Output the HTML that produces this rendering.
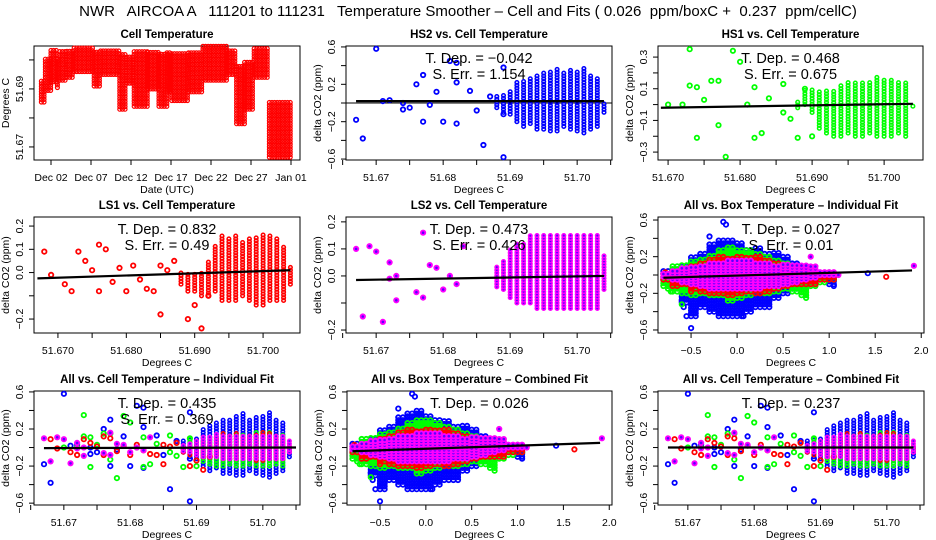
<!DOCTYPE html>
<html><head><meta charset="utf-8">
<style>
html,body{margin:0;padding:0;background:#fff;}
svg{display:block;font-family:"Liberation Sans",sans-serif;}
text{fill:#000;}
</style></head>
<body>
<svg id="chart" width="936" height="540" viewBox="0 0 936 540" xmlns="http://www.w3.org/2000/svg">
<rect x="0" y="0" width="936" height="540" fill="#fff"/>
<text x="468" y="16" font-size="15" text-anchor="middle" xml:space="preserve">NWR   AIRCOA A   111201 to 111231   Temperature Smoother – Cell and Fits ( 0.026  ppm/boxC +  0.237  ppm/cellC)</text>
<g id="layer"></g>
</svg>
<script>
// ---------- DATA ----------
const tsStart = [-0.2, 0.3, 1.0, 1.8, 2.1, 3.0, 3.9, 6.4, 7.2, 9.6, 10.5, 11.4, 13.1, 14.5, 15.5, 16.1, 18.2, 20.0, 23.0, 24.2, 25.2, 26.4, 28.3];
const tsEnd   = [0.3, 1.0, 1.8, 2.1, 3.0, 3.9, 6.4, 7.2, 9.6, 10.5, 11.4, 13.1, 14.5, 15.5, 16.1, 18.2, 20.0, 23.0, 24.2, 25.2, 26.4, 28.2, 30.9];
const tsLo    = [51.6855, 51.6895, 51.6925, 51.6905, 51.6930, 51.6940, 51.6960, 51.6910, 51.6950, 51.6830, 51.6920, 51.6840, 51.6900, 51.6840, 51.6890, 51.6860, 51.6890, 51.6930, 51.6950, 51.6780, 51.6830, 51.6940, 51.6665];
const tsHi    = [51.6930, 51.7005, 51.7035, 51.7010, 51.7035, 51.7030, 51.7048, 51.7030, 51.7035, 51.7020, 51.7010, 51.7030, 51.7030, 51.7020, 51.7025, 51.7030, 51.7030, 51.7048, 51.7035, 51.6985, 51.7000, 51.7045, 51.6862];
const tsTickDays = [1, 6, 11, 16, 21, 26, 31];
const tsTickLabels = ["Dec 02","Dec 07","Dec 12","Dec 17","Dec 22","Dec 27","Jan 01"];

const cellCols = [51.688,51.689,51.690,51.691,51.692,51.693,51.694,51.695,51.696,51.697,51.698,51.699,51.700,51.701,51.702,51.703,51.704];
const hs2Lo = [-0.05,-0.10,-0.12,-0.20,-0.25,-0.22,-0.28,-0.28,-0.30,-0.30,-0.25,-0.28,-0.30,-0.32,-0.28,-0.25,-0.10];
const hs2Hi = [0.08,0.10,0.12,0.22,0.25,0.28,0.30,0.32,0.35,0.38,0.32,0.35,0.35,0.38,0.30,0.28,0.00];
const hs2OutX = [51.667,51.668,51.670,51.671,51.672,51.674,51.674,51.675,51.676,51.677,51.677,51.678,51.679,51.680,51.681,51.682,51.682,51.682,51.684,51.685,51.686,51.687,51.689,51.689,51.689];
const hs2OutY = [-0.18,-0.38,0.58,0.02,0.03,-0.07,0.0,-0.05,0.2,0.3,-0.2,-0.02,0.12,-0.2,0.45,0.43,-0.22,0.22,0.13,-0.08,-0.45,0.07,-0.58,-0.12,0.38];
const hs1Lo = [-0.02,0.00,-0.05,-0.15,-0.18,-0.20,-0.20,-0.18,-0.20,-0.20,-0.18,-0.20,-0.20,-0.20,-0.18,-0.20,-0.01];
const hs1Hi = [0.02,0.10,0.10,0.08,0.10,0.10,0.12,0.15,0.15,0.15,0.15,0.18,0.17,0.17,0.15,0.15,0.00];
const hs1OutX = [51.670,51.672,51.673,51.673,51.674,51.674,51.675,51.676,51.677,51.677,51.678,51.679,51.680,51.681,51.682,51.682,51.683,51.684,51.686,51.686,51.687,51.688,51.689,51.690];
const hs1OutY = [0.0,0.0,0.35,0.12,0.11,-0.21,0.03,0.15,-0.13,0.15,-0.33,0.34,0.27,0.0,0.11,-0.21,-0.18,0.04,0.13,-0.05,-0.09,-0.21,0.1,-0.2];
const ls1Lo = [-0.05,-0.08,-0.08,-0.10,-0.10,-0.08,-0.12,-0.12,-0.12,-0.10,-0.12,-0.14,-0.14,-0.12,-0.12,-0.12,-0.05];
const ls1Hi = [0.00,0.00,0.00,0.00,0.05,0.12,0.16,0.15,0.16,0.14,0.15,0.16,0.17,0.16,0.15,0.12,0.03];
const ls1OutX = [51.668,51.669,51.671,51.672,51.673,51.674,51.675,51.676,51.676,51.677,51.678,51.679,51.680,51.681,51.682,51.683,51.684,51.685,51.685,51.686,51.687,51.689,51.690,51.691,51.692];
const ls1OutY = [0.09,-0.01,-0.05,-0.08,0.09,0.05,0.01,0.12,-0.08,0.1,-0.04,0.02,-0.08,0.03,-0.03,-0.07,-0.08,-0.18,0.03,0.01,0.05,-0.2,-0.14,-0.24,-0.1];
const ls2Lo = [-0.04,-0.05,-0.08,-0.10,-0.10,-0.10,-0.12,-0.12,-0.12,-0.12,-0.12,-0.12,-0.12,-0.12,-0.12,-0.12,-0.05];
const ls2Hi = [0.04,0.06,0.10,0.12,0.12,0.15,0.15,0.15,0.15,0.15,0.15,0.15,0.15,0.15,0.15,0.15,0.08];
const ls2OutX = [51.667,51.668,51.669,51.670,51.671,51.672,51.672,51.673,51.673,51.676,51.677,51.677,51.678,51.679,51.680,51.681,51.682,51.683];
const ls2OutY = [0.1,-0.15,0.11,0.09,-0.17,0.05,-0.01,-0.09,0.0,-0.06,0.16,-0.08,0.04,0.03,-0.05,0.0,-0.03,0.11];

const boxCols = [-0.8,-0.7,-0.6,-0.5,-0.4,-0.3,-0.2,-0.1,0.0,0.1,0.2,0.3,0.4,0.5,0.6,0.7,0.8,0.9,1.0];
const boxBlueLo = [-0.05,-0.10,-0.30,-0.45,-0.35,-0.40,-0.45,-0.45,-0.45,-0.40,-0.35,-0.35,-0.25,-0.20,-0.15,-0.12,-0.08,-0.05,-0.10];
const boxBlueHi = [0.05,0.08,0.10,0.20,0.25,0.35,0.38,0.40,0.35,0.30,0.30,0.25,0.25,0.20,0.15,0.10,0.05,0.02,0.02];
const boxGreenLo = [-0.12,-0.18,-0.20,-0.22,-0.20,-0.22,-0.22,-0.28,-0.25,-0.22,-0.20,-0.20,-0.18,-0.15,-0.18,-0.22,-0.12,-0.08,-0.05];
const boxGreenHi = [0.00,0.10,0.12,0.15,0.18,0.22,0.28,0.32,0.30,0.28,0.25,0.22,0.18,0.15,0.12,0.08,0.05,0.02,0.02];
const boxRedLo = [-0.05,-0.12,-0.10,-0.15,-0.18,-0.20,-0.20,-0.22,-0.20,-0.18,-0.20,-0.18,-0.15,-0.12,-0.10,-0.10,-0.10,-0.05,-0.05];
const boxRedHi = [0.03,0.05,0.08,0.12,0.15,0.18,0.20,0.20,0.22,0.20,0.20,0.18,0.15,0.12,0.10,0.05,0.02,0.00,0.00];
const boxMagLo = [-0.02,-0.05,-0.08,-0.10,-0.12,-0.15,-0.15,-0.15,-0.15,-0.15,-0.15,-0.12,-0.12,-0.10,-0.08,-0.05,-0.03,0.00,0.00];
const boxMagHi = [0.02,0.05,0.08,0.10,0.12,0.15,0.15,0.18,0.18,0.18,0.15,0.15,0.12,0.12,0.12,0.12,0.10,0.05,0.05];
const boxOutX = [-0.5,-0.55,-0.15,-0.12,1.42,1.05,-0.6,-0.58,0.07,-0.3];
const boxOutY = [-0.58,-0.45,0.58,0.55,0.02,-0.12,-0.28,-0.35,-0.45,0.42];
const boxOutGX = [1.05,-0.75,-0.72,-0.6,0.75,1.0];
const boxOutGY = [-0.05,-0.15,-0.18,-0.32,-0.25,0.03];
const boxOutRX = [1.62,-0.78,-0.5];
const boxOutRY = [-0.02,0.03,-0.18];
const boxOutMX = [1.92,1.1,0.8];
const boxOutMY = [0.1,0.0,0.2];

const fitHS2 = [51.667, 0.02, 51.704, 0.02];
const fitHS1 = [51.669, -0.02, 51.704, 0.005];
const fitLS1 = [51.667, -0.025, 51.704, 0.01];
const fitLS2 = [51.667, -0.015, 51.704, 0.0];
const fitBoxInd = [-0.8, -0.03, 1.9, 0.05];
const fitAllInd = [51.667, -0.006, 51.705, 0.0];
const fitBoxComb = [-0.8, -0.04, 1.9, 0.05];
const fitAllComb = [51.667, 0.0, 51.704, 0.0];

const cellTicks2 = [51.665,51.670,51.675,51.680,51.685,51.690,51.695,51.700,51.705];
const cellTickLabels2 = ["","51.67","","51.68","","51.69","","51.70",""];
const cellTicks3 = [51.670,51.675,51.680,51.685,51.690,51.695,51.700];
const cellTickLabels3 = ["51.670","","51.680","","51.690","","51.700"];
const boxTicks = [-0.5,0.0,0.5,1.0,1.5,2.0];
const boxTickLabels = ["−0.5","0.0","0.5","1.0","1.5","2.0"];
const ppm6Ticks = [-0.6,-0.4,-0.2,0,0.2,0.4,0.6];
const ppm6Labels = ["−0.6","","−0.2","","0.2","","0.6"];
const ppm3Ticks = [-0.3,-0.2,-0.1,0,0.1,0.2,0.3];
const ppm3Labels = ["−0.3","","−0.1","","0.1","","0.3"];
const ppm2Ticks = [-0.2,-0.1,0,0.1,0.2];
const ppm2Labels = ["−0.2","","0.0","0.1","0.2"];
const tsYTicks = [51.67,51.68,51.69,51.70];
const tsYLabels = ["51.67","","51.69",""];

// ---------- RENDER ----------
const NS = "http://www.w3.org/2000/svg";
const layer = document.getElementById("layer");
function mk(tag, attrs, parent) {
  const e = document.createElementNS(NS, tag);
  for (const k in attrs) e.setAttribute(k, attrs[k]);
  (parent || layer).appendChild(e);
  return e;
}
function X(p, v) { return p.x + (v - p.xd[0]) / (p.xd[1] - p.xd[0]) * p.w; }
function Y(p, v) { return p.y + p.h - (v - p.yd[0]) / (p.yd[1] - p.yd[0]) * p.h; }

const BLUE = {s:"#0000ff", f:"none"}, GREEN = {s:"#00ff00", f:"none"}, RED = {s:"#ff0000", f:"none"}, MAG = {s:"#ff00ff", f:"#5a00ff"};
const TSRED = {s:"#ff0000", f:"none"};

function pt(g, p, xv, yv, col, name, sw, r) {
  const c = mk("circle", {cx: X(p, xv).toFixed(1), cy: Y(p, yv).toFixed(1), r: r || 2.2, fill: col.f, stroke: col.s, "stroke-width": sw || 1.8}, g);
  
  
}
function cols(g, p, xs, lo, hi, col, name, halfStep) {
  const step = (p.yd[1] - p.yd[0]) / p.h * 2.8;
  for (let i = 0; i < xs.length; i++) {
    const xsList = halfStep ? [xs[i], xs[i] + halfStep] : [xs[i]];
    for (const xv of xsList) {
      for (let v = lo[i]; v <= hi[i] + 1e-9; v += step) pt(g, p, xv, v, col, name, halfStep ? 1.8 : 1.5, halfStep ? 2.2 : 1.8);
    }
  }
}
function outs(g, p, xs, ys, col, name) {
  for (let i = 0; i < xs.length; i++) pt(g, p, xs[i], ys[i], col, name);
}
function fit(g, p, f) {
  const l = mk("line", {x1: X(p, f[0]), y1: Y(p, f[1]), x2: X(p, f[2]), y2: Y(p, f[3]), stroke: "#000", "stroke-width": 2.2}, g);
  
  
}
function panel(p) {
  const g = mk("g", {});
  
  
  const t = mk("text", {x: p.x + p.w / 2, y: p.y - 8, "font-size": 11.5, "font-weight": "bold", "text-anchor": "middle"}, g);
  t.textContent = p.title;
  
  
  const b = mk("rect", {x: p.x, y: p.y, width: p.w, height: p.h, fill: "none", stroke: "#000", "stroke-width": 1}, g);
  
  
  for (let i = 0; i < p.xt.length; i++) {
    const xx = X(p, p.xt[i]);
    mk("line", {x1: xx, y1: p.y + p.h, x2: xx, y2: p.y + p.h + 5, stroke: "#000"}, g);
    if (p.xl[i]) {
      const tl = mk("text", {x: xx, y: p.y + p.h + 21, "font-size": 10.5, "text-anchor": "middle"}, g);
      tl.textContent = p.xl[i];
      
      
    }
  }
  for (let i = 0; i < p.yt.length; i++) {
    const yy = Y(p, p.yt[i]);
    mk("line", {x1: p.x - 5, y1: yy, x2: p.x, y2: yy, stroke: "#000"}, g);
    if (p.yl[i]) {
      const tl = mk("text", {x: p.x - 11, y: yy, "font-size": 10.5, "text-anchor": "middle", transform: `rotate(-90 ${p.x - 11} ${yy})`}, g);
      tl.textContent = p.yl[i];
      
      
    }
  }
  const xa = mk("text", {x: p.x + p.w / 2, y: p.y + p.h + 33, "font-size": 10.5, "text-anchor": "middle"}, g);
  xa.textContent = p.xlab;
  
  
  const yax = p.x - 25, yay = p.y + p.h / 2;
  const ya = mk("text", {x: yax, y: yay, "font-size": 10.5, "text-anchor": "middle", transform: `rotate(-90 ${yax} ${yay})`}, g);
  ya.textContent = p.ylab;
  
  
  return g;
}
function stats(g, p, lines) {
  lines.forEach((s, i) => {
    const t = mk("text", {x: p.x + p.w / 2, y: p.y + 17 + i * 16, "font-size": 14.5, "text-anchor": "middle", "xml:space": "preserve"}, g);
    t.textContent = s;
    
    
  });
}

const YL = "delta CO2 (ppm)", XL = "Degrees C";
const pTS = {name:"cell-temperature-panel", title:"Cell Temperature", x:34, y:46, w:266, h:114, xd:[-1.125, 32.125], yd:[51.6655, 51.7048],
  xt: tsTickDays, xl: tsTickLabels, yt: tsYTicks, yl: tsYLabels, xlab:"Date (UTC)", ylab:"Degrees C"};
{
  const g = panel(pTS);
  const stepY = (pTS.yd[1] - pTS.yd[0]) / pTS.h * 2.6;
  const stepX = (pTS.xd[1] - pTS.xd[0]) / pTS.w * 2.6;
  for (let i = 0; i < tsStart.length; i++) {
    for (let d = tsStart[i]; d <= tsEnd[i]; d += stepX)
      for (let v = tsLo[i]; v <= tsHi[i] + 1e-9; v += stepY) pt(g, pTS, d, v, TSRED, 'cell-temp-point', 1.2, 2);
  }
}
const pHS2 = {name:"hs2-panel", title:"HS2 vs. Cell Temperature", x:346, y:46, w:266, h:114, xd:[51.6655,51.7052], yd:[-0.61,0.61],
  xt: cellTicks2, xl: cellTickLabels2, yt: ppm6Ticks, yl: ppm6Labels, xlab:XL, ylab:YL};
{ const g = panel(pHS2); mk("line",{x1:pHS2.x,y1:Y(pHS2,0),x2:pHS2.x+pHS2.w,y2:Y(pHS2,0),stroke:"#000"},g);
  cols(g,pHS2,cellCols,hs2Lo,hs2Hi,BLUE,'hs2-point'); outs(g,pHS2,hs2OutX,hs2OutY,BLUE,'hs2-point'); fit(g,pHS2,fitHS2);
  stats(g,pHS2,["T. Dep. =  −0.042","S. Err. =  1.154"]); }
const pHS1 = {name:"hs1-panel", title:"HS1 vs. Cell Temperature", x:658, y:46, w:265, h:114, xd:[51.6686,51.7054], yd:[-0.35,0.37],
  xt: cellTicks3, xl: cellTickLabels3, yt: ppm3Ticks, yl: ppm3Labels, xlab:XL, ylab:YL};
{ const g = panel(pHS1);
  cols(g,pHS1,cellCols,hs1Lo,hs1Hi,GREEN,'hs1-point'); outs(g,pHS1,hs1OutX,hs1OutY,GREEN,'hs1-point'); fit(g,pHS1,fitHS1);
  stats(g,pHS1,["T. Dep. =  0.468","S. Err. =  0.675"]); }
const pLS1 = {name:"ls1-panel", title:"LS1 vs. Cell Temperature", x:34, y:217, w:266, h:116, xd:[51.6665,51.7054], yd:[-0.26,0.239],
  xt: cellTicks3, xl: cellTickLabels3, yt: ppm2Ticks, yl: ppm2Labels, xlab:XL, ylab:YL};
{ const g = panel(pLS1);
  cols(g,pLS1,cellCols,ls1Lo,ls1Hi,RED,'ls1-point'); outs(g,pLS1,ls1OutX,ls1OutY,RED,'ls1-point'); fit(g,pLS1,fitLS1);
  stats(g,pLS1,["T. Dep. =  0.832","S. Err. =  0.49"]); }
const pLS2 = {name:"ls2-panel", title:"LS2 vs. Cell Temperature", x:346, y:217, w:266, h:116, xd:[51.6655,51.7052], yd:[-0.211,0.218],
  xt: cellTicks2, xl: cellTickLabels2, yt: ppm2Ticks, yl: ppm2Labels, xlab:XL, ylab:YL};
{ const g = panel(pLS2);
  cols(g,pLS2,cellCols,ls2Lo,ls2Hi,MAG,'ls2-point'); outs(g,pLS2,ls2OutX,ls2OutY,MAG,'ls2-point'); fit(g,pLS2,fitLS2);
  stats(g,pLS2,["T. Dep. =  0.473","S. Err. =  0.426"]); }
function boxAll(g, p) {
  cols(g,p,boxCols,boxBlueLo,boxBlueHi,BLUE,'blue-point',0.05); outs(g,p,boxOutX,boxOutY,BLUE,'blue-point');
  cols(g,p,boxCols,boxGreenLo,boxGreenHi,GREEN,'green-point',0.05); outs(g,p,boxOutGX,boxOutGY,GREEN,'green-point');
  cols(g,p,boxCols,boxRedLo,boxRedHi,RED,'red-point',0.05); outs(g,p,boxOutRX,boxOutRY,RED,'red-point');
  cols(g,p,boxCols,boxMagLo,boxMagHi,MAG,'magenta-point',0.05); outs(g,p,boxOutMX,boxOutMY,MAG,'magenta-point');
}
function cellAll(g, p) {
  cols(g,p,cellCols,hs2Lo,hs2Hi,BLUE,'blue-point'); outs(g,p,hs2OutX,hs2OutY,BLUE,'blue-point');
  cols(g,p,cellCols,hs1Lo,hs1Hi,GREEN,'green-point'); outs(g,p,hs1OutX,hs1OutY,GREEN,'green-point');
  cols(g,p,cellCols,ls1Lo,ls1Hi,RED,'red-point'); outs(g,p,ls1OutX,ls1OutY,RED,'red-point');
  cols(g,p,cellCols,ls2Lo,ls2Hi,MAG,'magenta-point'); outs(g,p,ls2OutX,ls2OutY,MAG,'magenta-point');
}
const pBI = {name:"all-box-individual-panel", title:"All vs. Box Temperature – Individual Fit", x:658, y:217, w:266, h:116, xd:[-0.859,2.03], yd:[-0.633,0.633],
  xt: boxTicks, xl: boxTickLabels, yt: ppm6Ticks, yl: ppm6Labels, xlab:XL, ylab:YL};
{ const g = panel(pBI); boxAll(g,pBI); fit(g,pBI,fitBoxInd); stats(g,pBI,["T. Dep. =  0.027","S. Err. =  0.01"]); }
const pAI = {name:"all-cell-individual-panel", title:"All vs. Cell Temperature – Individual Fit", x:34, y:391, w:266, h:114, xd:[51.6655,51.7056], yd:[-0.62,0.61],
  xt: cellTicks2, xl: cellTickLabels2, yt: ppm6Ticks, yl: ppm6Labels, xlab:XL, ylab:YL};
{ const g = panel(pAI); cellAll(g,pAI); fit(g,pAI,fitAllInd); stats(g,pAI,["T. Dep. =  0.435","S. Err. =  0.369"]); }
const pBC = {name:"all-box-combined-panel", title:"All vs. Box Temperature – Combined Fit", x:347, y:391, w:265, h:114, xd:[-0.86,2.03], yd:[-0.62,0.61],
  xt: boxTicks, xl: boxTickLabels, yt: ppm6Ticks, yl: ppm6Labels, xlab:XL, ylab:YL};
{ const g = panel(pBC); boxAll(g,pBC); fit(g,pBC,fitBoxComb); stats(g,pBC,["T. Dep. =  0.026"]); }
const pAC = {name:"all-cell-combined-panel", title:"All vs. Cell Temperature – Combined Fit", x:658, y:391, w:266, h:114, xd:[51.6655,51.7056], yd:[-0.62,0.61],
  xt: cellTicks2, xl: cellTickLabels2, yt: ppm6Ticks, yl: ppm6Labels, xlab:XL, ylab:YL};
{ const g = panel(pAC); cellAll(g,pAC); fit(g,pAC,fitAllComb); stats(g,pAC,["T. Dep. =  0.237"]); }
</script>
</body></html>
